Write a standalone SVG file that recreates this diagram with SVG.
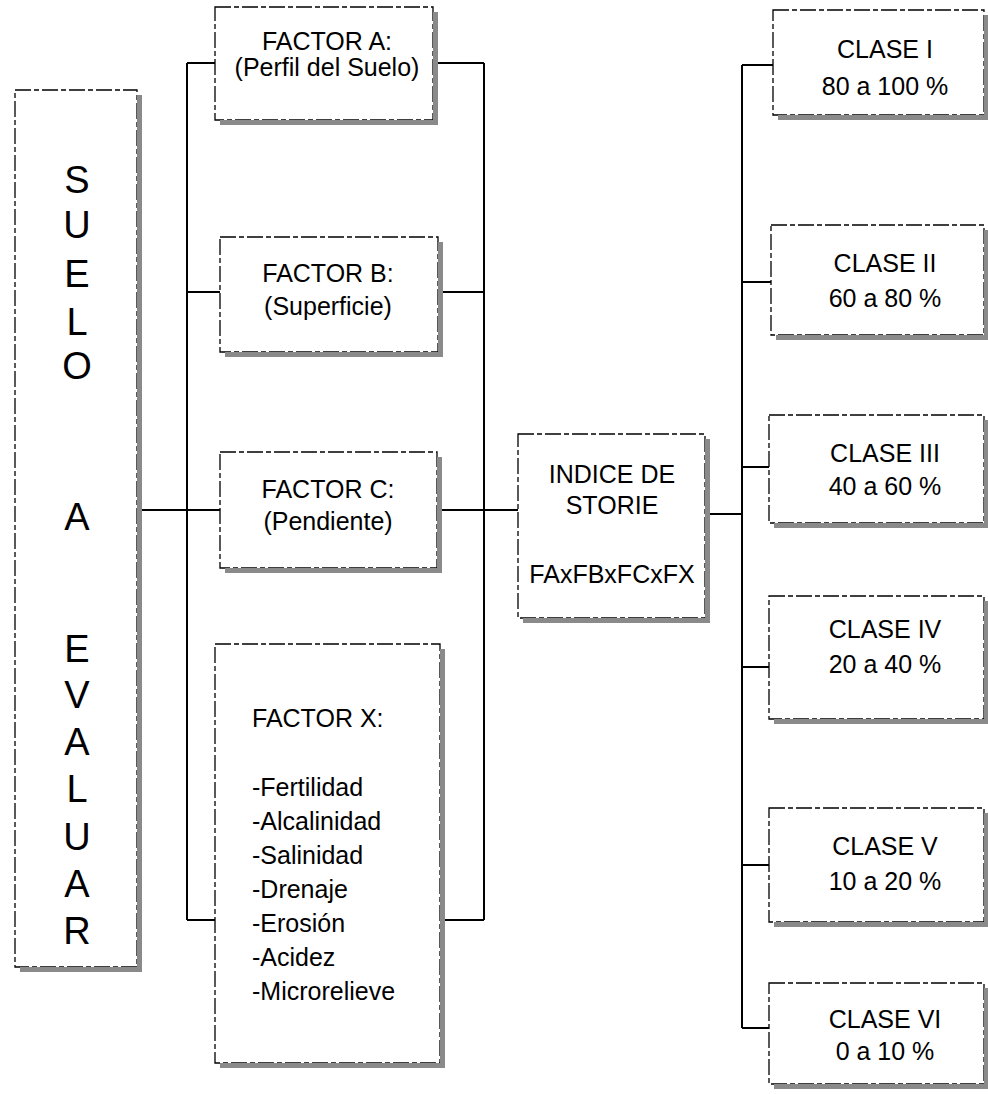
<svg xmlns="http://www.w3.org/2000/svg" width="988" height="1094" viewBox="0 0 988 1094">
<style>
.box{fill:#fff;stroke:#000;stroke-width:1.3;stroke-dasharray:16 3 5 3}
.sh{fill:#8a8a8a}
.t{font-family:"Liberation Sans",Arial,sans-serif;font-size:25px;fill:#000;text-anchor:middle}
.l{text-anchor:start}
.big{font-size:38px}
.c{stroke:#000;stroke-width:2;fill:none}
</style>
<rect width="988" height="1094" fill="#fff"/>
<g id="connectors" class="c">
<path d="M187,63V920M484,63V920"/>
<path d="M187,63H215M433,63H484"/>
<path d="M187,292H220M438,292H484"/>
<path d="M137,510H220M437,510H518"/>
<path d="M187,920H215M440,920H484"/>
<path d="M705,514H742"/>
<path d="M742,65V1028"/>
<path d="M742,65H773M742,282H771M742,467H769M742,667H769M742,865H769M742,1028H769"/>
</g>
<g id="suelo">
<rect class="box" x="15" y="90" width="122" height="877"/>
<rect class="sh" x="137" y="95" width="5" height="877"/>
<rect class="sh" x="20" y="967" width="122" height="5"/>
<g class="t big">
<text x="77" y="193">S</text>
<text x="77" y="238">U</text>
<text x="77" y="287">E</text>
<text x="77" y="335">L</text>
<text x="77" y="379">O</text>
<text x="77" y="530">A</text>
<text x="77" y="662">E</text>
<text x="77" y="708">V</text>
<text x="77" y="755">A</text>
<text x="77" y="802">L</text>
<text x="77" y="850">U</text>
<text x="77" y="897">A</text>
<text x="77" y="944">R</text>
</g>
</g>
<g id="factorA">
<rect class="box" x="215" y="7" width="218" height="113"/>
<rect class="sh" x="433" y="12" width="5" height="113"/>
<rect class="sh" x="220" y="120" width="218" height="5"/>
<text class="t" x="327" y="50">FACTOR A:</text>
<text class="t" x="327" y="76">(Perfil del Suelo)</text>
</g>
<g id="factorB">
<rect class="box" x="220" y="237" width="218" height="115"/>
<rect class="sh" x="438" y="242" width="5" height="115"/>
<rect class="sh" x="225" y="352" width="218" height="5"/>
<text class="t" x="328" y="282">FACTOR B:</text>
<text class="t" x="328" y="315">(Superficie)</text>
</g>
<g id="factorC">
<rect class="box" x="220" y="452" width="217" height="116"/>
<rect class="sh" x="437" y="457" width="5" height="116"/>
<rect class="sh" x="225" y="568" width="217" height="5"/>
<text class="t" x="328" y="498">FACTOR C:</text>
<text class="t" x="328" y="530">(Pendiente)</text>
</g>
<g id="factorX">
<rect class="box" x="215" y="644" width="225" height="419"/>
<rect class="sh" x="440" y="649" width="5" height="419"/>
<rect class="sh" x="220" y="1063" width="225" height="5"/>
<g class="t l">
<text x="252" y="727">FACTOR X:</text>
<text x="252" y="796">-Fertilidad</text>
<text x="252" y="830">-Alcalinidad</text>
<text x="252" y="864">-Salinidad</text>
<text x="252" y="898">-Drenaje</text>
<text x="252" y="932">-Erosión</text>
<text x="252" y="966">-Acidez</text>
<text x="252" y="1000">-Microrelieve</text>
</g>
</g>
<g id="indice">
<rect class="box" x="518" y="434" width="187" height="184"/>
<rect class="sh" x="705" y="439" width="5" height="184"/>
<rect class="sh" x="523" y="618" width="187" height="5"/>
<text class="t" x="612" y="483">INDICE DE</text>
<text class="t" x="612" y="514">STORIE</text>
<text class="t" x="612" y="583">FAxFBxFCxFX</text>
</g>
<g id="clase1">
<rect class="box" x="773" y="10" width="211" height="105"/>
<rect class="sh" x="984" y="15" width="5" height="105"/>
<rect class="sh" x="778" y="115" width="211" height="5"/>
<text class="t" x="885" y="58">CLASE I</text>
<text class="t" x="885" y="95">80 a 100 %</text>
</g>
<g id="clase2">
<rect class="box" x="771" y="225" width="213" height="110"/>
<rect class="sh" x="984" y="230" width="5" height="110"/>
<rect class="sh" x="776" y="335" width="213" height="5"/>
<text class="t" x="885" y="272">CLASE II</text>
<text class="t" x="885" y="307">60 a 80 %</text>
</g>
<g id="clase3">
<rect class="box" x="769" y="415" width="215" height="108"/>
<rect class="sh" x="984" y="420" width="5" height="108"/>
<rect class="sh" x="774" y="523" width="215" height="5"/>
<text class="t" x="885" y="462">CLASE III</text>
<text class="t" x="885" y="495">40 a 60 %</text>
</g>
<g id="clase4">
<rect class="box" x="769" y="596" width="215" height="123"/>
<rect class="sh" x="984" y="601" width="5" height="123"/>
<rect class="sh" x="774" y="719" width="215" height="5"/>
<text class="t" x="885" y="638">CLASE IV</text>
<text class="t" x="885" y="673">20 a 40 %</text>
</g>
<g id="clase5">
<rect class="box" x="769" y="808" width="215" height="114"/>
<rect class="sh" x="984" y="813" width="5" height="114"/>
<rect class="sh" x="774" y="922" width="215" height="5"/>
<text class="t" x="885" y="855">CLASE V</text>
<text class="t" x="885" y="890">10 a 20 %</text>
</g>
<g id="clase6">
<rect class="box" x="769" y="983" width="215" height="101"/>
<rect class="sh" x="984" y="988" width="5" height="101"/>
<rect class="sh" x="774" y="1084" width="215" height="5"/>
<text class="t" x="885" y="1028">CLASE VI</text>
<text class="t" x="885" y="1060">0 a 10 %</text>
</g>
</svg>
